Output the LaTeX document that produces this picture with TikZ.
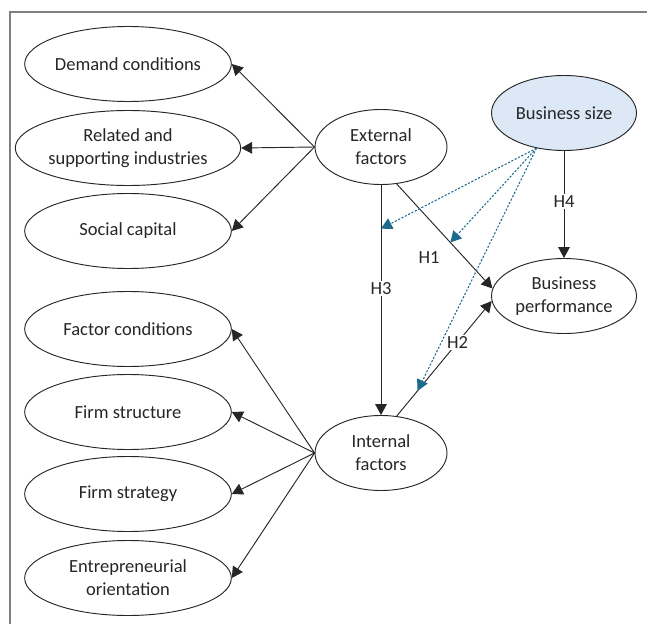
\documentclass[tikz,border=0pt]{standalone}
\usepackage{fontspec}
\setmainfont{Carlito}
\usetikzlibrary{arrows.meta,shapes.geometric}

\definecolor{sizefill}{HTML}{DCE8F6}
\definecolor{modblue}{HTML}{1E6A8C}
\definecolor{inkgray}{HTML}{262626}

\begin{document}
\begin{tikzpicture}[x=0.03cm, y=-0.03cm,
    every node/.style={text=inkgray, font=\fontsize{15.8}{19.5}\selectfont, align=center},
    oval/.style={ellipse, draw=inkgray, line width=0.8pt, inner sep=0pt, minimum height=2.25cm},
    wide/.style={oval, minimum width=6.2cm},
    mid/.style={oval, minimum width=3.96cm},
    big/.style={oval, minimum width=4.35cm},
    path/.style={draw=inkgray, line width=0.8pt, -{Triangle[length=3.3mm,width=3.5mm]}},
    moder/.style={draw=modblue, line width=0.9pt, dash pattern=on 1.8pt off 1.4pt, -{Triangle[length=3.3mm,width=3.5mm]}},
    hyp/.style={fill=white, inner sep=1.5pt}]
    \useasboundingbox (0,0) rectangle (647,624);
    \draw[gray, line width=1.2pt] (10,624) -- (10,12) -- (647,12);

    % indicators
    \node[wide] (demand) at (128,64) {Demand conditions};
    \node[wide] (related) at (128,148) {Related and\\supporting industries};
    \node[wide] (social) at (128,231) {Social capital};
    \node[wide] (factor) at (128,329) {Factor conditions};
    \node[wide] (structure) at (128,412) {Firm structure};
    \node[wide] (strategy) at (128,494) {Firm strategy};
    \node[wide] (orient) at (128,578) {Entrepreneurial\\orientation};

    % constructs
    \node[mid] (ext) at (381,147) {External\\factors};
    \node[mid] (int) at (381,453) {Internal\\factors};
    \node[big, fill=sizefill] (size) at (564,113) {Business size};
    \node[big] (perf) at (564,296) {Business\\performance};

    \draw[path] (ext.west) -- (demand.east);
    \draw[path] (ext.west) -- (related.east);
    \draw[path] (ext.west) -- (social.east);
    \draw[path] (int.west) -- (factor.east);
    \draw[path] (int.west) -- (structure.east);
    \draw[path] (int.west) -- (strategy.east);
    \draw[path] (int.west) -- (orient.east);

    % hypotheses
    \draw[path] (ext.south) -- coordinate[pos=0.19] (m3) node[hyp, pos=0.45] (h3) {H3} (int.north);
    \draw[path] (ext.293) -- coordinate[pos=0.56] (m1) (perf.174);
    \node (h1) at (429,258) {H1};
    \draw[path] (int.67) -- coordinate[pos=0.22] (m2) node[hyp, pos=0.64] (h2) {H2} (perf.184);
    \draw[path] (size.south) -- node[hyp, pos=0.47] (h4) {H4} (perf.north);

    % moderation
    \draw[moder] (size.232) -- (m3);
    \draw[moder] (size.232) -- (m1);
    \draw[moder] (size.232) -- (m2);
\end{tikzpicture}
\end{document}
